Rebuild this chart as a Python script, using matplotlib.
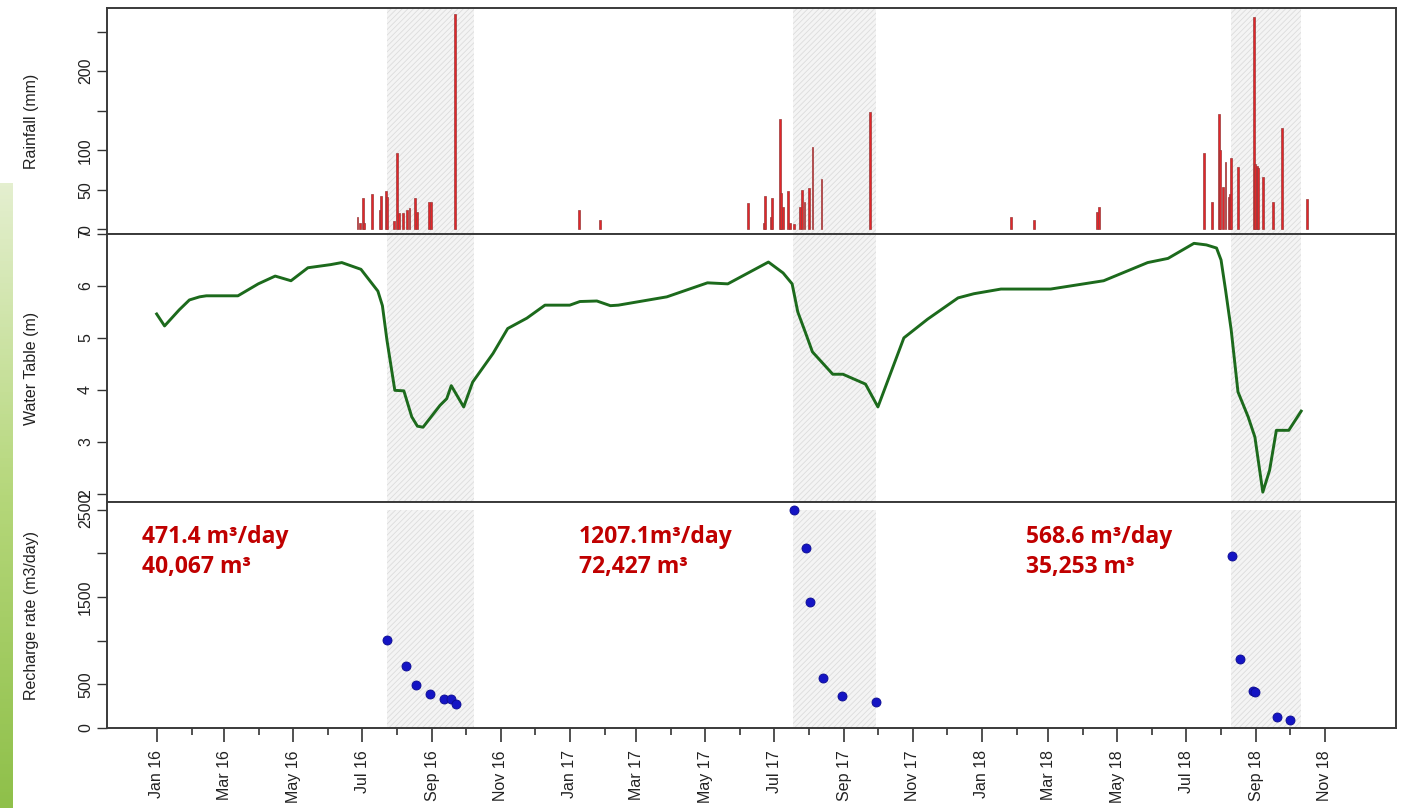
import numpy as np
import pandas as pd
import matplotlib
matplotlib.use('Agg')
import matplotlib.pyplot as plt
import matplotlib.dates as mdates

# daily rainfall events (mm)
rain_dates = ['2016-06-27', '2016-06-29', '2016-07-02', '2016-07-03', '2016-07-10', '2016-07-17',
              '2016-07-18', '2016-07-22', '2016-07-23', '2016-07-29', '2016-08-01', '2016-08-03',
              '2016-08-06', '2016-08-10', '2016-08-12', '2016-08-17', '2016-08-19', '2016-08-29',
              '2016-08-31', '2016-09-21', '2017-01-09', '2017-01-28',
              '2017-06-08', '2017-06-22', '2017-06-23', '2017-06-28', '2017-06-29', '2017-07-06',
              '2017-07-07', '2017-07-09', '2017-07-13', '2017-07-15', '2017-07-19', '2017-07-24',
              '2017-07-26', '2017-07-28', '2017-08-01', '2017-08-04', '2017-08-12', '2017-09-24',
              '2018-01-27', '2018-02-16', '2018-04-13', '2018-04-15',
              '2018-07-17', '2018-07-24', '2018-07-30', '2018-07-31', '2018-08-03', '2018-08-05',
              '2018-08-08', '2018-08-09', '2018-08-10', '2018-08-16', '2018-08-30', '2018-08-31',
              '2018-09-02', '2018-09-03', '2018-09-07', '2018-09-16', '2018-09-24', '2018-10-16']
rain_mm = [15, 8, 39, 8, 44, 24,
           42, 48, 41, 10, 96, 20,
           20, 25, 27, 39, 22, 34,
           34, 272, 24, 12,
           33, 8, 42, 15, 40, 140,
           46, 28, 49, 8, 7, 28,
           50, 34, 52, 104, 64, 148,
           15, 12, 22, 28,
           96, 34, 146, 100, 53, 85,
           41, 45, 90, 79, 268, 83,
           80, 77, 66, 34, 128, 38]

# water table depth (m)
wt_dates = ['2016-01-01', '2016-01-08', '2016-01-21', '2016-01-30', '2016-02-08', '2016-02-14',
            '2016-03-13', '2016-03-31', '2016-04-15', '2016-04-29', '2016-05-14', '2016-06-03',
            '2016-06-13', '2016-06-30', '2016-07-15', '2016-07-19', '2016-07-23', '2016-07-30',
            '2016-08-07', '2016-08-14', '2016-08-19', '2016-08-24', '2016-09-08', '2016-09-14',
            '2016-09-18', '2016-09-29', '2016-10-07', '2016-10-25', '2016-11-07', '2016-11-24',
            '2016-12-10', '2017-01-01', '2017-01-10', '2017-01-25', '2017-02-06', '2017-02-13',
            '2017-03-28', '2017-05-03', '2017-05-21', '2017-06-26', '2017-07-09', '2017-07-17',
            '2017-07-22', '2017-07-29', '2017-08-04', '2017-08-22', '2017-08-31', '2017-09-20',
            '2017-10-01', '2017-10-24', '2017-11-14', '2017-12-11', '2017-12-25', '2018-01-18',
            '2018-03-03', '2018-04-19', '2018-05-28', '2018-06-15', '2018-07-08', '2018-07-19',
            '2018-07-28', '2018-08-01', '2018-08-05', '2018-08-10', '2018-08-16', '2018-08-25',
            '2018-08-31', '2018-09-07', '2018-09-13', '2018-09-19', '2018-09-30', '2018-10-11']
wt_m = [5.46, 5.23, 5.54, 5.73, 5.79, 5.81,
        5.81, 6.04, 6.19, 6.10, 6.35, 6.41,
        6.45, 6.32, 5.90, 5.62, 4.96, 3.99,
        3.98, 3.48, 3.30, 3.28, 3.70, 3.83,
        4.08, 3.67, 4.15, 4.70, 5.18, 5.38,
        5.63, 5.63, 5.70, 5.71, 5.62, 5.63,
        5.79, 6.06, 6.04, 6.46, 6.25, 6.04,
        5.50, 5.09, 4.73, 4.30, 4.30, 4.11,
        3.67, 5.00, 5.36, 5.77, 5.85, 5.94,
        5.94, 6.10, 6.45, 6.53, 6.82, 6.79,
        6.73, 6.50, 5.92, 5.15, 3.96, 3.48,
        3.09, 2.03, 2.45, 3.22, 3.22, 3.59]

# recharge rate (m3/day)
rech_dates = ['2016-07-23', '2016-08-09', '2016-08-18', '2016-08-30', '2016-09-12', '2016-09-18',
              '2016-09-22', '2017-07-19', '2017-07-29', '2017-08-02', '2017-08-13', '2017-08-30',
              '2017-09-29', '2018-08-11', '2018-08-18', '2018-08-29', '2018-08-31', '2018-09-20',
              '2018-10-01']
rech_rate = [1004, 712, 492, 385, 327, 327,
             277, 2503, 2062, 1443, 568, 369,
             296, 1974, 790, 425, 407, 130,
             96]

# recharge seasons
season_start = ['2016-07-23', '2017-07-18', '2018-08-10']
season_end = ['2016-10-08', '2017-09-29', '2018-10-11']
rate_text = ['471.4 m³/day', '1207.1m³/day', '568.6 m³/day']
vol_text = ['40,067 m³', '72,427 m³', '35,253 m³']
note_dates = ['2015-12-19', '2017-01-09', '2018-02-09']

rain_dates = pd.to_datetime(rain_dates)
wt_dates = pd.to_datetime(wt_dates)
rech_dates = pd.to_datetime(rech_dates)

plt.rcParams['font.family'] = ['Liberation Sans', 'DejaVu Sans']
plt.rcParams['hatch.linewidth'] = 0.6
plt.rcParams['hatch.color'] = '#dcdcdc'

W, H = 1406, 808
fig = plt.figure(figsize=(W / 100, H / 100), dpi=100)

# green strip on the left edge (slide decoration)
deco = fig.add_axes([0, 0, 12 / W, 625 / H])
grad = np.linspace(0, 1, 200).reshape(-1, 1)
cmap = matplotlib.colors.LinearSegmentedColormap.from_list('g', ['#e4efcf', '#b5d77a', '#8fc04a'])
deco.imshow(grad, aspect='auto', cmap=cmap)
deco.axis('off')

left, right = 107, 1396
ax1 = fig.add_axes([left / W, 1 - 234 / H, (right - left) / W, (234 - 8) / H])
ax2 = fig.add_axes([left / W, 1 - 502 / H, (right - left) / W, (502 - 234) / H], sharex=ax1)
ax3 = fig.add_axes([left / W, 1 - 728 / H, (right - left) / W, (728 - 502) / H], sharex=ax1)

xmin, xmax = pd.Timestamp('2015-11-18'), pd.Timestamp('2019-01-03')

for ax, top in [(ax1, None), (ax2, None), (ax3, 2500)]:
    for s, e in zip(season_start, season_end):
        if top is None:
            ax.axvspan(pd.Timestamp(s), pd.Timestamp(e), facecolor='#f4f4f4', edgecolor='#dcdcdc',
                       hatch='//////', lw=0, zorder=0)
        else:
            ax.fill_between([pd.Timestamp(s), pd.Timestamp(e)], 0, top, facecolor='#f4f4f4',
                            edgecolor='#dcdcdc', hatch='//////', lw=0, zorder=0)
    for sp in ax.spines.values():
        sp.set_color('#3a3a3a')
        sp.set_linewidth(1.4)
    ax.tick_params(axis='y', direction='out', length=7, width=1, color='#333', labelsize=11.5,
                   pad=3, labelcolor='#222')
    ax.yaxis.set_label_coords((39 - left) / (right - left), 0.5)

# rainfall
ax1.bar(rain_dates, rain_mm, width=1.6, color='#e3262a', edgecolor='#9a3a3a', linewidth=0.5, zorder=2)
ax1.set_ylim(-6, 280)
ax1.set_yticks([0, 50, 100, 150, 200, 250])
ax1.set_yticklabels(['0', '50', '100', '', '200', ''], rotation=90, va='center')
ax1.set_ylabel('Rainfall (mm)', fontsize=11.5, color='#222')

# water table
ax2.plot(wt_dates, wt_m, color='#1c6a1c', lw=2.1, zorder=3)
ax2.set_ylim(1.84, 7.0)
ax2.set_yticks([2, 3, 4, 5, 6, 7])
ax2.set_yticklabels(['2', '3', '4', '5', '6', '7'], rotation=90, va='center')
ax2.set_ylabel('Water Table (m)', fontsize=11.5, color='#222')

# recharge rate
ax3.plot(rech_dates, rech_rate, 'o', color='#1414c4', ms=6.5, mec='#0c0c90', mew=0.6, zorder=3)
ax3.set_ylim(0, 2590)
ax3.set_yticks([0, 500, 1000, 1500, 2000, 2500])
ax3.set_yticklabels(['0', '500', '', '1500', '', '2500'], rotation=90, va='center')
ax3.set_ylabel('Recharge rate (m3/day)', fontsize=11.5, color='#222')

for d, r, v in zip(note_dates, rate_text, vol_text):
    ax3.text(pd.Timestamp(d), 2185, r, color='#c00000', fontsize=16.5, fontweight='bold',
             family=['Open Sans', 'DejaVu Sans'], va='center', ha='left')
    ax3.text(pd.Timestamp(d), 1840, v, color='#c00000', fontsize=16.5, fontweight='bold',
             family=['Open Sans', 'DejaVu Sans'], va='center', ha='left')

ax1.set_xlim(xmin, xmax)
major = pd.date_range('2016-01-01', '2018-11-01', freq='2MS')
minor = pd.date_range('2016-01-01', '2018-11-01', freq='MS')
ax3.set_xticks(major)
ax3.set_xticks(minor, minor=True)
ax3.xaxis.set_major_formatter(mdates.DateFormatter('%b %y'))
ax3.tick_params(axis='x', which='major', direction='out', length=10, width=1.2, color='#333',
                labelsize=11.5, rotation=90, pad=6, labelcolor='#222')
ax3.tick_params(axis='x', which='minor', direction='out', length=5, width=1.2, color='#333')
for ax in (ax1, ax2):
    ax.tick_params(axis='x', which='both', bottom=False, labelbottom=False)

fig.savefig('out.png', dpi=100)
